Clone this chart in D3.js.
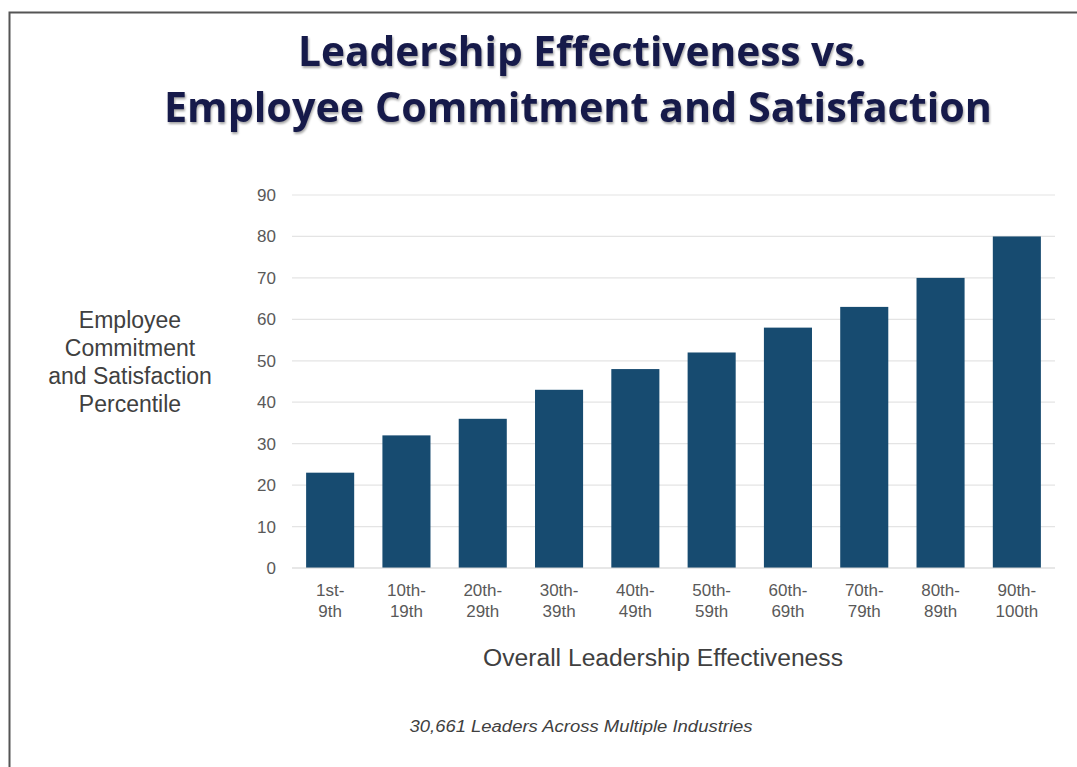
<!DOCTYPE html>
<html lang="en">
<head>
<meta charset="UTF-8">
<title>Leadership Effectiveness vs. Employee Commitment and Satisfaction</title>
<script src="https://d3js.org/d3.v7.min.js"></script>
<style>
    body { margin: 0; background: #fff; }
    svg { display: block; }
</style>
</head>
<body>
<svg id="chart" width="1077" height="767"></svg>
<script>
    // chart data
    const categories = [["1st-", "9th"], ["10th-", "19th"], ["20th-", "29th"], ["30th-", "39th"], ["40th-", "49th"],
        ["50th-", "59th"], ["60th-", "69th"], ["70th-", "79th"], ["80th-", "89th"], ["90th-", "100th"]];
    const values = [23, 32, 36, 43, 48, 52, 58, 63, 70, 80];
    const yTicks = [0, 10, 20, 30, 40, 50, 60, 70, 80, 90];

    const font = "'Liberation Sans', Arial, sans-serif";
    const svg = d3.select("#chart");
    const margin = { top: 195, right: 22, bottom: 199, left: 292 };
    const width = 1077 - margin.left - margin.right;
    const height = 767 - margin.top - margin.bottom;

    // frame lines (left and top only)
    svg.append("path")
        .attr("d", "M9.5,767 V12.5 H1077")
        .attr("fill", "none")
        .attr("stroke", "#555")
        .attr("stroke-width", 2);

    // title
    const title = svg.append("g")
        .attr("font-family", "'Open Sans', sans-serif")
        .attr("font-weight", 700)
        .attr("fill", "#161a4a")
        .attr("text-anchor", "middle")
        .style("filter", "drop-shadow(1px 2px 1px rgba(0,0,0,0.35))");
    title.append("text").attr("x", 582).attr("y", 66).attr("font-size", 41)
        .attr("textLength", 568).attr("lengthAdjust", "spacingAndGlyphs")
        .text("Leadership Effectiveness vs.");
    title.append("text").attr("x", 578).attr("y", 122).attr("font-size", 41)
        .attr("textLength", 828).attr("lengthAdjust", "spacingAndGlyphs")
        .text("Employee Commitment and Satisfaction");

    const g = svg.append("g").attr("transform", `translate(${margin.left},${margin.top})`);

    const x = d3.scaleBand()
        .domain(categories.map(d => d.join("")))
        .range([0, width])
        .paddingInner(0.37)
        .paddingOuter(0.185);

    const y = d3.scaleLinear().domain([0, 90]).range([height, 0]);

    // gridlines
    g.append("g")
        .selectAll("line")
        .data(yTicks.slice(1))
        .join("line")
        .attr("x1", 0).attr("x2", width)
        .attr("y1", d => y(d)).attr("y2", d => y(d))
        .attr("stroke", "#e4e4e4")
        .attr("stroke-width", 1.2);

    // y axis labels
    const yAxis = g.append("g").call(d3.axisLeft(y).tickValues(yTicks).tickSize(0).tickPadding(16));
    yAxis.select(".domain").remove();
    yAxis.selectAll("text")
        .attr("font-family", font)
        .attr("font-size", 17)
        .attr("fill", "#595959");

    // bars
    g.selectAll(".bar")
        .data(values)
        .join("rect")
        .attr("class", "bar")
        .attr("x", (d, i) => x(categories[i].join("")))
        .attr("width", x.bandwidth())
        .attr("y", d => y(d))
        .attr("height", d => height - y(d))
        .attr("fill", "#174b70");

    // baseline
    g.append("line")
        .attr("x1", 0).attr("x2", width)
        .attr("y1", height).attr("y2", height)
        .attr("stroke", "#cfcfcf")
        .attr("stroke-width", 1.2);

    // x axis labels (two lines)
    const xAxis = g.append("g").attr("transform", `translate(0,${height})`)
        .call(d3.axisBottom(x).tickSize(0).tickFormat(""));
    xAxis.select(".domain").remove();
    xAxis.selectAll(".tick text").remove();
    xAxis.selectAll(".tick").each(function (d, i) {
        const t = d3.select(this).append("text")
            .attr("text-anchor", "middle")
            .attr("font-family", font)
            .attr("font-size", 17)
            .attr("fill", "#595959");
        t.append("tspan").attr("x", 0).attr("y", 28).text(categories[i][0]);
        t.append("tspan").attr("x", 0).attr("y", 49).text(categories[i][1]);
    });

    // axis titles
    svg.append("text")
        .attr("x", 663).attr("y", 666)
        .attr("text-anchor", "middle")
        .attr("font-family", font)
        .attr("font-size", 23)
        .attr("fill", "#404040")
        .attr("textLength", 360).attr("lengthAdjust", "spacingAndGlyphs")
        .text("Overall Leadership Effectiveness");

    const yTitle = svg.append("text")
        .attr("text-anchor", "middle")
        .attr("font-family", font)
        .attr("font-size", 23)
        .attr("fill", "#404040");
    ["Employee", "Commitment", "and Satisfaction", "Percentile"].forEach((s, i) => {
        yTitle.append("tspan").attr("x", 130).attr("y", 328 + i * 28).text(s);
    });

    // footnote
    svg.append("text")
        .attr("x", 581).attr("y", 732)
        .attr("text-anchor", "middle")
        .attr("font-family", font)
        .attr("font-style", "italic")
        .attr("font-size", 16)
        .attr("fill", "#404040")
        .attr("textLength", 343).attr("lengthAdjust", "spacingAndGlyphs")
        .text("30,661 Leaders Across Multiple Industries");
</script>
</body>
</html>
